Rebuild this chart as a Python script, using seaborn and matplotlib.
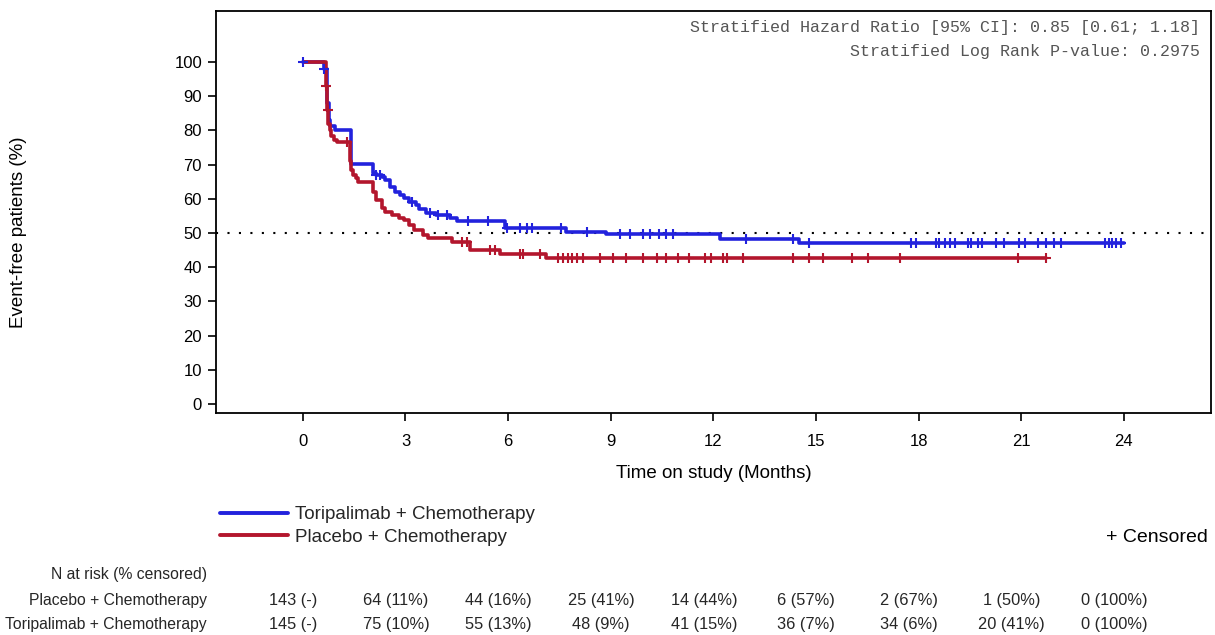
import numpy as np
import pandas as pd
import matplotlib
matplotlib.use("Agg")
import matplotlib.pyplot as plt
import matplotlib.transforms as mtransforms
from matplotlib.lines import Line2D
import seaborn as sns

# ---------------- data ----------------
arms = ["Toripalimab + Chemotherapy", "Placebo + Chemotherapy"]

tori_time = [0, 0.62, 0.70, 0.75, 0.80, 0.95, 1.42, 2.05, 2.15, 2.30, 2.40, 2.55, 2.70,
             2.85, 2.97, 3.10, 3.30, 3.40, 3.60, 3.90, 4.30, 4.50, 5.90, 7.70, 8.85,
             12.20, 14.50, 24.00]
tori_surv = [100, 97.9, 88.0, 83.0, 81.4, 80.0, 70.3, 67.5, 66.9, 66.4, 65.5, 63.5, 62.0,
             61.1, 60.2, 59.1, 58.2, 57.0, 55.9, 55.3, 54.5, 53.5, 51.5, 50.4, 49.6,
             48.2, 47.1, 47.1]

plac_time = [0, 0.69, 0.71, 0.74, 0.78, 0.83, 0.90, 1.00, 1.37, 1.42, 1.47, 1.55, 1.62,
             2.05, 2.15, 2.30, 2.40, 2.60, 2.80, 2.95, 3.10, 3.25, 3.50, 3.65, 4.35,
             4.90, 5.75, 7.10, 21.74]
plac_surv = [100, 93.0, 86.0, 82.0, 80.0, 78.5, 77.3, 76.5, 71.0, 68.5, 67.0, 66.0, 65.0,
             62.0, 59.6, 57.2, 56.2, 55.3, 54.5, 53.8, 52.3, 50.9, 49.4, 48.5, 47.5,
             45.0, 43.8, 42.6, 42.6]

tori_cens = [0.0, 0.62, 2.15, 2.25, 3.18, 3.71, 3.95, 4.20, 4.83, 5.41, 5.96, 6.35, 6.54,
             6.69, 7.56, 8.30, 9.27, 9.56, 9.95, 10.15, 10.40, 10.63, 10.83, 12.95, 14.33,
             14.80, 17.77, 17.92, 18.50, 18.60, 18.76, 18.92, 19.07, 19.44, 19.53, 19.75,
             19.85, 20.27, 20.50, 20.95, 21.10, 21.48, 21.74, 21.95, 22.15, 23.45, 23.56,
             23.67, 23.78, 23.93]
plac_cens = [0.69, 0.72, 1.30, 4.64, 4.79, 5.47, 5.61, 6.35, 6.44, 6.93, 7.47, 7.61, 7.76,
             7.86, 8.00, 8.20, 8.68, 9.07, 9.46, 9.95, 10.34, 10.63, 10.98, 11.29, 11.75,
             11.92, 12.28, 12.39, 12.86, 14.32, 14.79, 15.20, 16.05, 16.52, 17.46, 20.90,
             21.74]

risk_times = [0, 3, 6, 9, 12, 15, 18, 21, 24]
plac_risk = ["143 (-)", "64 (11%)", "44 (16%)", "25 (41%)", "14 (44%)", "6 (57%)",
             "2 (67%)", "1 (50%)", "0 (100%)"]
tori_risk = ["145 (-)", "75 (10%)", "55 (13%)", "48 (9%)", "41 (15%)", "36 (7%)",
             "34 (6%)", "20 (41%)", "0 (100%)"]

x_ticks = [0, 3, 6, 9, 12, 15, 18, 21, 24]
y_ticks = [0, 10, 20, 30, 40, 50, 60, 70, 80, 90, 100]

hr_text = "Stratified Hazard Ratio [95% CI]: 0.85 [0.61; 1.18]"
p_text = "Stratified Log Rank P-value: 0.2975"
x_label = "Time on study (Months)"
y_label = "Event-free patients (%)"
risk_header = "N at risk (% censored)"
cens_label = "+ Censored"

# ---------------- styling ----------------
BLUE = "#2222dd"
RED = "#b3162d"

sns.set_theme(style="white")
plt.rcParams["font.family"] = ["Liberation Sans", "DejaVu Sans"]

W, H = 1215, 635
fig = plt.figure(figsize=(W / 100, H / 100), dpi=100)
ax = fig.add_axes([216 / W, 1 - 413 / H, 995 / W, 402 / H])


def surv_at(times, surv, pts):
    times = np.asarray(times)
    surv = np.asarray(surv)
    idx = np.searchsorted(times, pts, side="right") - 1
    return surv[np.clip(idx, 0, len(surv) - 1)]


curves = pd.concat([
    pd.DataFrame({"time": tori_time, "surv": tori_surv, "arm": arms[0]}),
    pd.DataFrame({"time": plac_time, "surv": plac_surv, "arm": arms[1]}),
])
cens = pd.concat([
    pd.DataFrame({"time": tori_cens, "surv": surv_at(tori_time, tori_surv, tori_cens), "arm": arms[0]}),
    pd.DataFrame({"time": plac_cens, "surv": surv_at(plac_time, plac_surv, plac_cens), "arm": arms[1]}),
])

palette = {arms[0]: BLUE, arms[1]: RED}

ax.axhline(50, color="black", lw=1.5, ls=(0, (1, 4.5)), zorder=1)

for arm in arms:
    d = curves[curves.arm == arm]
    sns.lineplot(data=d, x="time", y="surv", ax=ax, color=palette[arm],
                 drawstyle="steps-post", estimator=None, sort=False, lw=2.6,
                 legend=False, zorder=3)
    c = cens[cens.arm == arm]
    sns.scatterplot(data=c, x="time", y="surv", ax=ax, color=palette[arm],
                    marker="+", s=45, linewidth=1.5, legend=False, zorder=4)

ax.set_xlim(-2.54, 26.55)
ax.set_ylim(-2.6, 114.9)
ax.set_xticks(x_ticks)
ax.set_yticks(y_ticks)
ax.tick_params(axis="both", direction="out", length=6, width=1.2, labelsize=12,
               colors="black", left=True, bottom=True)
ax.tick_params(axis="x", pad=9)
ax.tick_params(axis="y", pad=4)
for sp in ax.spines.values():
    sp.set_color("black")
    sp.set_linewidth(1.3)

ax.set_xlabel(x_label, fontsize=13.5, color="black")
ax.set_ylabel(y_label, fontsize=13.5, color="black")
ax.xaxis.set_label_coords(0.5, -0.13)
ax.yaxis.set_label_coords(-0.19, 0.45)

ax.text(0.989, 0.960, hr_text, transform=ax.transAxes, ha="right", va="center",
        family="Liberation Mono", fontsize=12, color="#555555")
ax.text(0.989, 0.900, p_text, transform=ax.transAxes, ha="right", va="center",
        family="Liberation Mono", fontsize=12, color="#555555")

# legend
handles = [Line2D([0], [0], color=BLUE, lw=2.8), Line2D([0], [0], color=RED, lw=2.8)]
fig.legend(handles, arms, loc="upper left", bbox_to_anchor=(220 / W, 1 - 506 / H),
           frameon=False, fontsize=13.5, handlelength=3.6, handletextpad=0.42,
           labelspacing=0.28, borderpad=0, borderaxespad=0)
fig.text(1208 / W, 1 - 537 / H, cens_label, ha="right", va="center", fontsize=14,
         color="black")

# at-risk table
trans = mtransforms.blended_transform_factory(ax.transData, fig.transFigure)
fig.text(207 / W, 1 - 575 / H, risk_header, ha="right", va="center", fontsize=11.3)
fig.text(207 / W, 1 - 600 / H, arms[1], ha="right", va="center", fontsize=11.3)
fig.text(207 / W, 1 - 625 / H, arms[0], ha="right", va="center", fontsize=11.3)
for t, a, b in zip(risk_times, plac_risk, tori_risk):
    ax.text(t - 0.28, 1 - 600 / H, a, transform=trans, ha="center", va="center",
            fontsize=11.8, clip_on=False)
    ax.text(t - 0.28, 1 - 625 / H, b, transform=trans, ha="center", va="center",
            fontsize=11.8, clip_on=False)

fig.savefig("out.png", dpi=100)
